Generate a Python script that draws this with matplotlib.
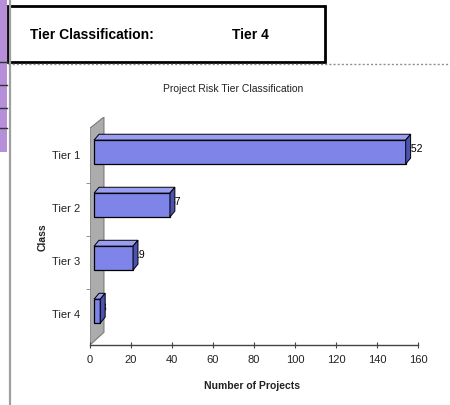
import matplotlib.pyplot as plt
from matplotlib.patches import Polygon, Rectangle
from matplotlib.lines import Line2D

plt.rcParams['font.family'] = ['Liberation Sans', 'DejaVu Sans']

tiers = ['Tier 1', 'Tier 2', 'Tier 3', 'Tier 4']
projects = [152, 37, 19, 3]
x_ticks = [0, 20, 40, 60, 80, 100, 120, 140, 160]
selected_tier = 'Tier 4'

W, H = 450, 405
fig = plt.figure(figsize=(W / 100, H / 100), dpi=100)
fig.patch.set_facecolor('white')

# sheet decoration: lavender row strip, gray column line, summary box
fig.add_artist(Rectangle((0, 1 - 152 / H), 7 / W, 152 / H, transform=fig.transFigure,
                         facecolor='#b68fd8', edgecolor='none'))
for yy in [62, 85, 108, 128]:
    fig.add_artist(Line2D([0, 7 / W], [1 - yy / H] * 2, transform=fig.transFigure,
                          color='#333333', lw=1))
fig.add_artist(Line2D([9.5 / W] * 2, [0, 1], transform=fig.transFigure, color='#a0a0a0', lw=1.6))
fig.add_artist(Line2D([8 / W, 1], [1 - 64 / H] * 2, transform=fig.transFigure,
                      color='#909090', lw=1, ls=(0, (1.5, 1.5))))
fig.add_artist(Rectangle((8 / W, 1 - 62 / H), 317 / W, 56 / H, transform=fig.transFigure,
                         facecolor='white', edgecolor='black', lw=2))
fig.text(30 / W, 1 - 35 / H, 'Tier Classification:', fontsize=10, fontweight='bold',
         va='center', ha='left')
fig.text(232 / W, 1 - 35 / H, selected_tier, fontsize=10, fontweight='bold',
         va='center', ha='left')

fig.text(233 / W, 1 - 89 / H, 'Project Risk Tier Classification', fontsize=7.5,
         ha='center', va='center', color='#222222')

# chart area
ax = fig.add_axes([90 / W, (H - 345) / H, (418 - 90) / W, (345 - 117) / H])
ax.set_xlim(0, 160)
ax.set_ylim(3.64, -0.66)
ax.set_facecolor('none')
for side in ['top', 'right', 'left']:
    ax.spines[side].set_visible(False)
ax.spines['bottom'].set_color('#444444')
ax.spines['bottom'].set_linewidth(1)

# gray side wall with depth
wall = Polygon([(0, 3.64), (0, -0.45), (6.8, -0.66), (6.8, 3.40)], closed=True,
               facecolor='#acacac', edgecolor='#7a7a7a', lw=0.8, zorder=1)
ax.add_patch(wall)

start = 2.0
depth_x = 2.4
depth_y = 0.11
bh = 0.45
face = '#7f84e8'
top = '#9a9ef0'
side = '#4c52b0'

for i, v in enumerate(projects):
    y0 = i - bh / 2
    y1 = i + bh / 2
    ax.text(start + v, i - 0.06, str(v), fontsize=7.5, ha='left', va='center', zorder=2)
    ax.barh(i, v, left=start, height=bh, color=face, edgecolor='black', lw=0.9, zorder=3)
    ax.add_patch(Polygon([(start, y0), (start + v, y0), (start + v + depth_x, y0 - depth_y),
                          (start + depth_x, y0 - depth_y)], closed=True,
                         facecolor=top, edgecolor='black', lw=0.7, zorder=3))
    ax.add_patch(Polygon([(start + v, y0), (start + v + depth_x, y0 - depth_y),
                          (start + v + depth_x, y1 - depth_y), (start + v, y1)], closed=True,
                         facecolor=side, edgecolor='black', lw=0.7, zorder=3))

ax.set_xticks(x_ticks)
ax.set_xticklabels([str(t) for t in x_ticks], fontsize=8, color='#222222')
ax.tick_params(axis='x', direction='inout', length=4, width=0.8, color='#444444', pad=5)

ax.set_yticks([i + 0.06 for i in range(len(tiers))])
ax.set_yticklabels(tiers, fontsize=8, color='#222222')
ax.tick_params(axis='y', length=0, pad=7)
ax.set_yticks([0.58, 1.58, 2.58], minor=True)
ax.tick_params(axis='y', which='minor', length=3, color='#808080', direction='out')

fig.text(252 / W, 1 - 386 / H, 'Number of Projects', fontsize=7.5, fontweight='bold',
         ha='center', va='center', color='#222222')
fig.text(43 / W, 1 - 237 / H, 'Class', fontsize=7.5, fontweight='bold', rotation=90,
         ha='center', va='center', color='#222222')

fig.savefig('out.png', dpi=100)
